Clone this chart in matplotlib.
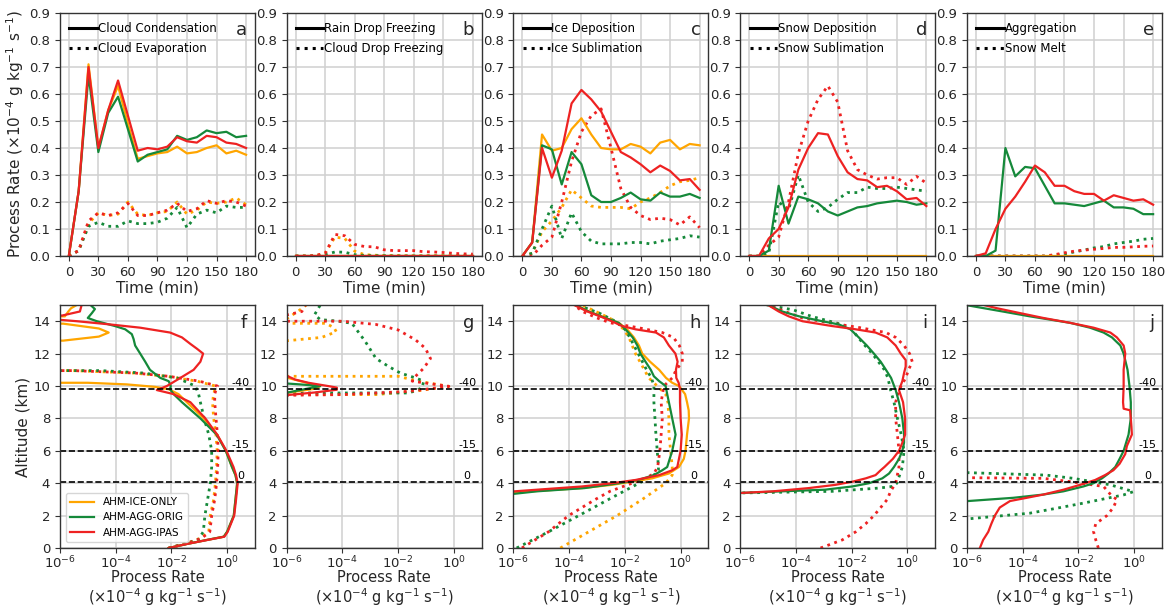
import matplotlib.pyplot as plt
from matplotlib.lines import Line2D
from matplotlib.ticker import NullLocator

plt.rcParams['font.family'] = ['DejaVu Sans']

# ---- colours / names of the three runs
run_names = ['AHM-ICE-ONLY', 'AHM-AGG-ORIG', 'AHM-AGG-IPAS']
run_colors = ['#ffa500', '#15893a', '#ee2222']

# ---- time series (top row), x = time in minutes
time = [0, 10, 20, 30, 40, 50, 60, 70, 80, 90, 100, 110, 120, 130, 140, 150, 160, 170, 180]

# a: cloud condensation (solid) / evaporation (dotted)
a_ice_cond = [0, 0.24, 0.71, 0.40, 0.54, 0.63, 0.49, 0.36, 0.37, 0.38, 0.385, 0.405, 0.38, 0.385, 0.40, 0.41, 0.38, 0.39, 0.375]
a_orig_cond = [0, 0.24, 0.67, 0.385, 0.53, 0.59, 0.47, 0.35, 0.375, 0.385, 0.395, 0.445, 0.43, 0.44, 0.465, 0.455, 0.46, 0.44, 0.445]
a_ipas_cond = [0, 0.24, 0.70, 0.40, 0.54, 0.65, 0.52, 0.39, 0.40, 0.395, 0.405, 0.44, 0.425, 0.42, 0.445, 0.44, 0.42, 0.415, 0.40]
a_ice_evap = [0, 0.02, 0.12, 0.16, 0.15, 0.155, 0.20, 0.155, 0.15, 0.16, 0.165, 0.20, 0.155, 0.17, 0.20, 0.195, 0.20, 0.215, 0.19]
a_orig_evap = [0, 0.02, 0.11, 0.125, 0.11, 0.11, 0.13, 0.12, 0.12, 0.125, 0.14, 0.18, 0.105, 0.155, 0.17, 0.16, 0.185, 0.18, 0.18]
a_ipas_evap = [0, 0.02, 0.13, 0.16, 0.15, 0.16, 0.195, 0.15, 0.15, 0.16, 0.17, 0.195, 0.165, 0.175, 0.205, 0.195, 0.205, 0.20, 0.185]

# b: rain drop freezing (solid, zero for all runs) / cloud drop freezing (dotted)
b_rain_frz = [0, 0, 0, 0, 0, 0, 0, 0, 0, 0, 0, 0, 0, 0, 0, 0, 0, 0, 0]
b_ice_cdf = [0, 0, 0.001, 0.01, 0.07, 0.065, 0.018, 0.005, 0.003, 0.002, 0.002, 0.001, 0.001, 0.001, 0.001, 0.001, 0.001, 0.001, 0.001]
b_orig_cdf = [0, 0, 0, 0.005, 0.015, 0.014, 0.005, 0.002, 0.001, 0.001, 0, 0, 0, 0, 0, 0, 0, 0, 0]
b_ipas_cdf = [0, 0, 0.002, 0.01, 0.08, 0.075, 0.043, 0.035, 0.034, 0.023, 0.02, 0.02, 0.02, 0.016, 0.015, 0.013, 0.01, 0.008, 0.007]

# c: ice deposition / sublimation
c_ice_dep = [0, 0.05, 0.45, 0.39, 0.40, 0.47, 0.51, 0.45, 0.40, 0.395, 0.395, 0.415, 0.405, 0.38, 0.42, 0.43, 0.395, 0.415, 0.41]
c_orig_dep = [0, 0.05, 0.41, 0.395, 0.265, 0.385, 0.34, 0.225, 0.20, 0.20, 0.215, 0.235, 0.21, 0.205, 0.235, 0.22, 0.22, 0.23, 0.215]
c_ipas_dep = [0, 0.05, 0.40, 0.29, 0.39, 0.565, 0.615, 0.58, 0.535, 0.46, 0.385, 0.365, 0.34, 0.31, 0.335, 0.315, 0.28, 0.285, 0.245]
c_ice_subl = [0, 0.01, 0.09, 0.13, 0.18, 0.245, 0.215, 0.185, 0.18, 0.18, 0.18, 0.175, 0.20, 0.215, 0.235, 0.26, 0.275, 0.28, 0.29]
c_orig_subl = [0, 0.01, 0.10, 0.185, 0.065, 0.16, 0.09, 0.055, 0.045, 0.045, 0.045, 0.05, 0.05, 0.045, 0.055, 0.06, 0.065, 0.075, 0.07]
c_ipas_subl = [0, 0, 0.04, 0.07, 0.20, 0.35, 0.46, 0.52, 0.545, 0.40, 0.25, 0.18, 0.15, 0.135, 0.14, 0.135, 0.115, 0.145, 0.105]

# d: snow deposition / sublimation (ICE-ONLY has no snow)
d_ice_dep = [0, 0, 0, 0, 0, 0, 0, 0, 0, 0, 0, 0, 0, 0, 0, 0, 0, 0, 0]
d_orig_dep = [0, 0, 0.02, 0.26, 0.12, 0.22, 0.21, 0.195, 0.165, 0.15, 0.165, 0.18, 0.185, 0.195, 0.20, 0.205, 0.20, 0.19, 0.195]
d_ipas_dep = [0, 0, 0.065, 0.10, 0.18, 0.32, 0.40, 0.455, 0.45, 0.37, 0.31, 0.285, 0.28, 0.255, 0.26, 0.24, 0.21, 0.215, 0.185]
d_ice_subl = [0, 0, 0, 0, 0, 0, 0, 0, 0, 0, 0, 0, 0, 0, 0, 0, 0, 0, 0]
d_orig_subl = [0, 0, 0.01, 0.20, 0.17, 0.30, 0.20, 0.165, 0.18, 0.21, 0.235, 0.235, 0.255, 0.25, 0.25, 0.255, 0.25, 0.245, 0.24]
d_ipas_subl = [0, 0, 0.04, 0.07, 0.20, 0.38, 0.50, 0.58, 0.63, 0.57, 0.39, 0.32, 0.30, 0.285, 0.29, 0.29, 0.265, 0.295, 0.27]

# e: aggregation / snow melt
e_ice_agg = [0, 0, 0, 0, 0, 0, 0, 0, 0, 0, 0, 0, 0, 0, 0, 0, 0, 0, 0]
e_orig_agg = [0, 0, 0.02, 0.40, 0.295, 0.33, 0.325, 0.26, 0.195, 0.195, 0.19, 0.185, 0.195, 0.205, 0.18, 0.18, 0.175, 0.155, 0.155]
e_ipas_agg = [0, 0.01, 0.10, 0.175, 0.22, 0.275, 0.335, 0.31, 0.26, 0.26, 0.24, 0.23, 0.23, 0.205, 0.225, 0.215, 0.205, 0.21, 0.19]
e_ice_melt = [0, 0, 0, 0, 0, 0, 0, 0, 0, 0, 0, 0, 0, 0, 0, 0, 0, 0, 0]
e_orig_melt = [0, 0, 0, 0, 0, 0, 0, 0, 0.003, 0.008, 0.015, 0.022, 0.03, 0.035, 0.045, 0.05, 0.055, 0.062, 0.065]
e_ipas_melt = [0, 0, 0, 0, 0, 0, 0, 0, 0.005, 0.012, 0.018, 0.022, 0.025, 0.028, 0.032, 0.032, 0.034, 0.036, 0.037]

# ---- vertical profiles (bottom row): (altitude km, rate) pairs
# f: cloud condensation / evaporation
f_ice_cond = [(0, 8e-3), (0.25, 3.6e-2), (0.5, 0.19), (0.7, 0.76), (1, 1.0), (2, 1.74), (3, 2.0), (4, 2.3),
              (4.5, 2.0), (5, 1.5), (6, 0.9), (7, 0.44), (8, 0.145), (8.5, 0.072), (9, 0.036), (9.5, 0.018),
              (9.8, 8e-3), (9.95, 2.5e-3), (10.1, 2.5e-4), (10.2, 1e-5), (10.25, 0), (12.7, 0), (12.8, 1.3e-6),
              (13.05, 2.5e-5), (13.3, 5.6e-5), (13.55, 2.5e-5), (13.85, 1.3e-6), (13.9, 0), (14.25, 0),
              (14.3, 1.5e-6), (14.6, 2e-6), (14.8, 2.5e-6), (15, 4e-6)]
f_orig_cond = [(0, 8e-3), (0.25, 3.6e-2), (0.5, 0.19), (0.7, 0.76), (1, 1.0), (2, 1.74), (3, 2.0), (4, 2.3),
               (4.5, 2.0), (5, 1.5), (6, 0.9), (7, 0.42), (8, 0.11), (9, 0.024), (9.5, 0.012), (9.8, 9e-3),
               (10.0, 9.5e-3), (10.3, 8e-3), (10.5, 4e-3), (11, 1.7e-3), (11.5, 1.15e-3), (12, 7.6e-4),
               (12.5, 5e-4), (12.9, 4.4e-4), (13.2, 3.8e-4), (13.5, 2.2e-4), (13.7, 9.5e-5), (14.0, 2.1e-5),
               (14.2, 1e-5), (14.5, 1.4e-5), (14.75, 1.8e-5), (15, 1.25e-5)]
f_ipas_cond = [(0, 8e-3), (0.25, 3.6e-2), (0.5, 0.2), (0.7, 0.8), (1, 1.05), (2, 1.8), (3, 2.1), (4, 2.4),
               (4.5, 2.1), (5, 1.7), (6, 0.95), (7, 0.44), (8, 0.166), (9, 0.048), (9.5, 0.012), (9.75, 3e-3),
               (10, 6.9e-3), (10.5, 0.021), (11, 0.063), (11.5, 0.11), (12, 0.138), (12.3, 0.083),
               (12.6, 0.048), (13, 0.024), (13.3, 9e-3), (13.6, 7.6e-4), (13.8, 6.3e-5), (14.0, 4e-6),
               (14.08, 1.1e-6), (14.12, 0), (14.3, 0), (14.35, 1.2e-6), (14.6, 5.2e-6), (15, 6e-6)]
f_ice_evap = [(0, 8e-3), (0.3, 0.036), (0.6, 0.11), (1, 0.22), (2, 0.25), (3, 0.33), (4, 0.38), (5, 0.42),
              (6, 0.44), (7, 0.4), (8, 0.33), (9, 0.3), (9.5, 0.33), (9.9, 0.38), (10.0, 0.38), (10.3, 0.083),
              (10.6, 6.9e-3), (10.8, 4.4e-4), (10.95, 3e-6), (11.0, 0)]
f_orig_evap = [(0, 8e-3), (0.3, 0.035), (0.5, 0.09), (1, 0.14), (2, 0.16), (3, 0.2), (4, 0.25), (5, 0.28),
               (6, 0.28), (7, 0.22), (8, 0.15), (9, 0.11), (9.5, 0.095), (10, 0.072), (10.5, 0.016),
               (10.8, 1e-3), (10.95, 3e-5), (11.0, 0)]
f_ipas_evap = [(0, 8e-3), (0.3, 0.04), (0.6, 0.12), (1, 0.24), (2, 0.28), (3, 0.36), (4, 0.42), (5, 0.46),
               (6, 0.48), (7, 0.45), (8, 0.4), (9, 0.36), (9.5, 0.36), (9.9, 0.42), (10.0, 0.45), (10.3, 0.1),
               (10.6, 8e-3), (10.8, 5e-4), (10.95, 3e-6), (11.0, 0)]

# g: rain drop freezing / cloud drop freezing
g_ice_rain = [(9.55, 0), (9.6, 1.2e-6), (9.85, 1.2e-5), (10.0, 1.6e-5), (10.25, 4e-6), (10.5, 1.1e-6), (10.55, 0)]
g_orig_rain = [(9.55, 0), (9.6, 1.1e-6), (9.85, 6e-6), (10.0, 1.6e-5), (10.1, 3e-6), (10.15, 1.1e-6), (10.2, 0)]
g_ipas_rain = [(9.4, 0), (9.45, 1.2e-6), (9.6, 1e-5), (9.77, 6.3e-5), (9.9, 6.3e-5), (10.0, 3e-5),
               (10.2, 6e-6), (10.4, 2e-6), (10.6, 1.1e-6), (10.65, 0)]
g_ice_cdf = [(9.42, 0), (9.47, 1.6e-3), (9.7, 0.05), (9.98, 0.66), (10.3, 0.05), (10.6, 1e-2), (10.65, 0),
             (12.75, 0), (12.8, 1.1e-6), (13.0, 1.8e-5), (13.35, 6e-5), (13.6, 5e-5), (13.87, 2.5e-5),
             (13.9, 0), (14.15, 0), (14.2, 1.1e-6), (14.7, 3e-6), (15.1, 6e-6)]
g_orig_cdf = [(9.55, 0), (9.57, 0.025), (9.88, 0.072), (10.3, 0.083), (10.5, 0.042), (10.8, 0.012),
              (11.2, 4.6e-3), (11.7, 1.6e-3), (12.75, 6.6e-4), (13.87, 2.2e-4), (14.0, 7.2e-5),
              (14.1, 1.6e-5), (14.4, 1e-5), (15.0, 1.6e-5)]
g_ipas_cdf = [(9.38, 0), (9.43, 1.1e-6), (9.47, 1e-4), (9.67, 0.025), (9.98, 0.66), (10.3, 0.032),
              (10.6, 0.042), (11.1, 0.083), (11.7, 0.145), (12.33, 0.095), (12.85, 0.042), (13.46, 0.01),
              (13.8, 1.6e-3), (14.0, 1e-4), (14.02, 0), (14.35, 0), (14.4, 1.1e-6), (14.6, 3.5e-6), (15.1, 5e-6)]

# h: ice deposition / sublimation
h_ice_dep = [(3.35, 0), (3.4, 1.1e-6), (3.5, 4.6e-6), (3.7, 2.9e-4), (3.9, 3.5e-3), (4.1, 0.018), (4.3, 0.095),
             (4.6, 0.38), (5.0, 0.87), (5.5, 1.3), (6, 1.5), (7, 1.7), (8, 2.0), (8.5, 1.95), (9, 1.7),
             (9.5, 1.45), (10, 0.87), (10.2, 0.5), (10.5, 0.3), (11, 0.17), (11.5, 0.08), (12, 0.042),
             (12.5, 0.032), (13, 0.021), (13.5, 0.012), (13.9, 6e-3), (14.2, 2e-3), (14.6, 5e-4), (15, 1.7e-4)]
h_orig_dep = [(3.3, 0), (3.35, 1.1e-6), (3.5, 7e-6), (3.7, 3.6e-4), (4.0, 6e-3), (4.2, 0.03), (4.5, 0.11),
              (4.8, 0.22), (5, 0.33), (6, 0.5), (7, 0.66), (8, 0.5), (9, 0.38), (9.5, 0.33), (10, 0.29),
              (10.3, 0.17), (10.6, 0.11), (11, 0.085), (11.5, 0.055), (12, 0.036), (12.5, 0.028), (13, 0.019),
              (13.5, 0.0105), (13.9, 6e-3), (14.2, 2e-3), (14.6, 5e-4), (15, 1.7e-4)]
h_ipas_dep = [(3.45, 0), (3.5, 1.1e-6), (3.6, 7e-6), (3.8, 2.9e-4), (4.0, 3.5e-3), (4.2, 0.024), (4.5, 0.17),
              (4.8, 0.5), (5, 0.76), (6, 1.0), (7, 1.1), (8, 1.0), (9, 0.95), (9.8, 0.95), (10.2, 0.85),
              (10.5, 0.7), (11, 0.68), (11.5, 0.78), (12, 0.65), (12.5, 0.38), (13, 0.25), (13.3, 0.13),
              (13.5, 0.024), (13.7, 8e-3), (13.9, 4.5e-3), (14.2, 1.8e-3), (14.6, 4.5e-4), (15, 1.5e-4)]
h_ice_subl = [(0, 4.8e-5), (1, 5e-4), (2, 5.2e-3), (3, 0.042), (3.5, 0.11), (4, 0.29), (4.5, 0.5), (5, 0.5),
              (6, 0.44), (7, 0.38), (8, 0.38), (9, 0.35), (9.5, 0.29), (10, 0.145), (10.5, 0.072), (11, 0.05),
              (12, 0.024), (13, 0.014), (13.5, 9e-3), (14, 4.6e-3), (14.5, 1.2e-3), (15, 2.9e-4)]
h_orig_subl = [(0, 1.3e-6), (1, 1.8e-5), (2, 2.2e-4), (3, 2.6e-3), (4, 0.032), (4.5, 0.11), (4.8, 0.16),
               (5, 0.16), (6, 0.145), (7, 0.13), (8, 0.12), (9, 0.11), (9.5, 0.11), (10, 0.11), (10.5, 0.09),
               (11, 0.06), (12, 0.03), (13, 0.015), (13.5, 0.01), (14, 4.5e-3), (14.5, 1.2e-3), (15, 2e-4)]
h_ipas_subl = [(0, 2e-6), (1, 1.8e-5), (2, 9.5e-5), (3, 8.7e-4), (3.5, 2.9e-3), (4, 0.018), (4.3, 0.055),
               (4.6, 0.11), (5, 0.15), (6, 0.18), (7, 0.2), (8, 0.22), (9, 0.2), (10, 0.25), (10.5, 0.5),
               (11, 0.7), (11.5, 1.15), (12, 1.15), (12.5, 0.9), (13, 0.55), (13.3, 0.22), (13.6, 0.03),
               (13.9, 3e-3), (14.2, 1e-3), (14.6, 3e-4), (15, 1.5e-4)]

# i: snow deposition / sublimation
i_orig_dep = [(3.35, 0), (3.4, 1.1e-6), (3.5, 3.2e-5), (3.6, 1.1e-3), (3.8, 0.0105), (4.0, 0.042), (4.3, 0.126),
              (4.6, 0.22), (5, 0.33), (5.5, 0.5), (6, 0.66), (6.5, 0.76), (7, 0.76), (8, 0.66), (9, 0.5),
              (9.75, 0.38), (10.5, 0.26), (11, 0.17), (11.5, 0.11), (12, 0.063), (12.5, 0.035), (13, 0.018),
              (13.5, 9e-3), (13.8, 3.5e-3), (14, 8.7e-4), (14.3, 1.3e-4), (14.6, 3.2e-5), (15, 1e-5)]
i_ipas_dep = [(3.35, 0), (3.4, 1.1e-6), (3.5, 1.5e-5), (3.7, 2.9e-4), (3.9, 2.6e-3), (4.1, 0.011), (4.3, 0.032),
              (4.5, 0.072), (4.8, 0.11), (5, 0.15), (5.5, 0.3), (6, 0.5), (6.5, 0.66), (7, 0.83), (8, 0.83),
              (9, 0.7), (9.75, 0.5), (10.3, 0.66), (10.8, 0.76), (11.2, 0.87), (11.6, 0.87), (12, 0.58),
              (12.5, 0.38), (13, 0.19), (13.3, 0.072), (13.5, 0.014), (13.7, 2e-3), (14.0, 1.7e-4),
              (14.3, 5.5e-5), (14.6, 2.4e-5), (15, 1e-5)]
i_orig_subl = [(3.35, 0), (3.4, 1.1e-6), (3.5, 2e-3), (3.7, 0.095), (3.8, 0.29), (4, 0.42), (5, 0.66), (6, 0.76),
               (7, 0.6), (8, 0.44), (9, 0.33), (9.75, 0.25), (10.5, 0.2), (11, 0.15), (12, 0.055), (12.5, 0.03),
               (13, 0.017), (13.5, 0.01), (13.8, 4.5e-3), (14, 1.6e-3), (14.3, 3.6e-4), (14.7, 8e-5), (15, 9e-6)]
i_ipas_subl = [(0, 7.6e-4), (0.5, 4.6e-3), (1, 0.014), (1.5, 0.032), (2, 0.063), (2.5, 0.11), (3, 0.19),
               (3.5, 0.25), (4, 0.38), (5, 0.5), (6, 0.5), (7, 0.44), (8, 0.38), (9, 0.38), (9.75, 0.5),
               (10.5, 0.87), (11, 1.1), (11.5, 1.5), (12, 1.2), (12.5, 0.76), (13, 0.38), (13.3, 0.17),
               (13.6, 0.02), (13.9, 1.6e-3), (14.2, 1.7e-4), (14.6, 4e-5), (15, 1e-5)]

# j: aggregation / snow melt
j_orig_agg = [(2.85, 0), (2.9, 1.1e-6), (3.1, 4.6e-5), (3.3, 5.5e-4), (3.5, 2.9e-3), (3.8, 0.015), (4.0, 0.035),
              (4.3, 0.07), (4.6, 0.12), (5, 0.21), (5.5, 0.3), (6, 0.42), (7, 0.63), (8, 0.76), (9, 0.76),
              (10, 0.68), (11, 0.58), (12, 0.42), (12.5, 0.32), (13, 0.16), (13.3, 0.08), (13.6, 0.026),
              (13.9, 5e-3), (14.1, 9.5e-4), (14.3, 1.8e-4), (14.6, 1.9e-5), (14.85, 2.8e-6), (15, 9e-7)]
j_ipas_agg = [(0, 2.9e-6), (0.5, 3.8e-6), (1, 5.8e-6), (1.5, 7.5e-6), (2, 1e-5), (2.5, 1.5e-5), (2.9, 3.5e-5),
              (3.1, 1.4e-4), (3.3, 5.5e-4), (3.6, 2.9e-3), (3.9, 0.0115), (4.2, 0.04), (4.5, 0.09), (4.8, 0.18),
              (5.2, 0.3), (5.8, 0.48), (6.3, 0.55), (7, 0.83), (7.5, 0.8), (8, 0.76), (8.5, 0.72), (8.6, 0.42),
              (9, 0.4), (10, 0.42), (11, 0.42), (12, 0.48), (12.5, 0.42), (13, 0.24), (13.3, 0.14),
              (13.6, 0.035), (13.9, 5e-3), (14.2, 5.5e-4), (14.5, 8e-5), (14.8, 1.2e-5), (15, 4e-6)]
j_orig_melt = [(1.75, 0), (1.8, 1.1e-6), (2.15, 1.8e-4), (2.46, 1.7e-3), (2.77, 0.015), (3.07, 0.105),
               (3.28, 0.42), (3.48, 0.95), (3.9, 0.14), (4.3, 6.6e-3), (4.5, 7e-4), (4.65, 1.1e-6), (4.7, 0)]
j_ipas_melt = [(0, 0.052), (0.5, 0.042), (1, 0.035), (1.5, 0.042), (2, 0.105), (2.5, 0.18), (3.0, 0.24),
               (3.2, 0.16), (3.8, 0.08), (4.1, 5e-3), (4.3, 5.5e-4), (4.34, 1.1e-6), (4.38, 0)]

# isotherm heights (km) and labels
iso_heights = [9.8, 6.0, 4.07]
iso_labels = ['-40', '-15', '0']

top_panels = [
    ('a', [a_ice_cond, a_orig_cond, a_ipas_cond], [a_ice_evap, a_orig_evap, a_ipas_evap],
     ['Cloud Condensation', 'Cloud Evaporation']),
    ('b', [b_rain_frz, b_rain_frz, b_rain_frz], [b_ice_cdf, b_orig_cdf, b_ipas_cdf],
     ['Rain Drop Freezing', 'Cloud Drop Freezing']),
    ('c', [c_ice_dep, c_orig_dep, c_ipas_dep], [c_ice_subl, c_orig_subl, c_ipas_subl],
     ['Ice Deposition', 'Ice Sublimation']),
    ('d', [d_ice_dep, d_orig_dep, d_ipas_dep], [d_ice_subl, d_orig_subl, d_ipas_subl],
     ['Snow Deposition', 'Snow Sublimation']),
    ('e', [e_ice_agg, e_orig_agg, e_ipas_agg], [e_ice_melt, e_orig_melt, e_ipas_melt],
     ['Aggregation', 'Snow Melt']),
]

bottom_panels = [
    ('f', [f_ice_cond, f_orig_cond, f_ipas_cond], [f_ice_evap, f_orig_evap, f_ipas_evap]),
    ('g', [g_ice_rain, g_orig_rain, g_ipas_rain], [g_ice_cdf, g_orig_cdf, g_ipas_cdf]),
    ('h', [h_ice_dep, h_orig_dep, h_ipas_dep], [h_ice_subl, h_orig_subl, h_ipas_subl]),
    ('i', [None, i_orig_dep, i_ipas_dep], [None, i_orig_subl, i_ipas_subl]),
    ('j', [None, j_orig_agg, j_ipas_agg], [None, j_orig_melt, j_ipas_melt]),
]

unit = r'($\times 10^{-4}$ g kg$^{-1}$ s$^{-1}$)'
text_col = '#262626'

fig, axes = plt.subplots(2, 5, figsize=(11.71, 6.10), dpi=100)
fig.subplots_adjust(left=0.0512, right=0.9923, top=0.9787, bottom=0.1016, wspace=0.163, hspace=0.2016)


def style_axis(ax):
    ax.grid(True, color='#d0d0d0', lw=1.1)
    ax.set_axisbelow(True)
    for sp in ax.spines.values():
        sp.set_color('#333333')
        sp.set_linewidth(1.0)
    ax.tick_params(labelsize=9.5, colors='#333333', labelcolor=text_col, length=3.5)


# top row: time series
for k, (letter, solids, dotted, leg_labels) in enumerate(top_panels):
    ax = axes[0, k]
    style_axis(ax)
    for vals, col in zip(dotted, run_colors):
        ax.plot(time, vals, color=col, lw=2.0, ls=':')
    for vals, col in zip(solids, run_colors):
        ax.plot(time, vals, color=col, lw=1.6)
    ax.set_ylim(0, 0.9)
    ax.set_yticks([0.0, 0.1, 0.2, 0.3, 0.4, 0.5, 0.6, 0.7, 0.8, 0.9])
    ax.set_xticks([0, 30, 60, 90, 120, 150, 180])
    ax.set_xlabel('Time (min)', fontsize=11, color=text_col, labelpad=1)
    handles = [Line2D([], [], color='black', lw=2.2), Line2D([], [], color='black', lw=2.2, ls=':')]
    ax.legend(handles, leg_labels, loc='upper left', frameon=False, fontsize=8.5,
              handlelength=2.3, handletextpad=0.1, labelspacing=0.55, borderaxespad=0.4)
    ax.text(0.96, 0.965, letter, transform=ax.transAxes, ha='right', va='top', fontsize=13, color=text_col)
axes[0, 0].set_ylabel('Process Rate ' + unit, fontsize=11, color=text_col, labelpad=2)

# bottom row: vertical profiles
for k, (letter, solids, dotted) in enumerate(bottom_panels):
    ax = axes[1, k]
    style_axis(ax)
    ax.set_xscale('log')
    for prof, col in zip(dotted, run_colors):
        if prof is None:
            continue
        z, r = zip(*prof)
        ax.plot(r, z, color=col, lw=2.0, ls=':')
    for prof, col in zip(solids, run_colors):
        if prof is None:
            continue
        z, r = zip(*prof)
        ax.plot(r, z, color=col, lw=1.6)
    for h, lab in zip(iso_heights, iso_labels):
        ax.axhline(h, color='black', lw=1.2, ls='--')
        ax.text(3.0, h + 0.05, lab, ha='center', va='bottom', fontsize=8, color='black')
    ax.set_xlim(1e-6, 1e1)
    ax.set_ylim(0, 15)
    ax.set_xticks([1e-6, 1e-4, 1e-2, 1e0])
    ax.xaxis.set_minor_locator(NullLocator())
    ax.tick_params(axis='x', pad=1.5)
    ax.set_yticks([0, 2, 4, 6, 8, 10, 12, 14])
    ax.set_xlabel('Process Rate\n' + unit, fontsize=10.5, color=text_col, labelpad=-1, linespacing=1.05)
    ax.text(0.96, 0.965, letter, transform=ax.transAxes, ha='right', va='top', fontsize=13, color=text_col)
axes[1, 0].set_ylabel('Altitude (km)', fontsize=11, color=text_col, labelpad=2)

run_handles = [Line2D([], [], color=c, lw=1.6) for c in run_colors]
axes[1, 0].legend(run_handles, run_names, loc='lower left', fontsize=7.5, handlelength=2.3,
                  borderaxespad=0.6, edgecolor='#cccccc')

fig.savefig('out.png', dpi=100)
